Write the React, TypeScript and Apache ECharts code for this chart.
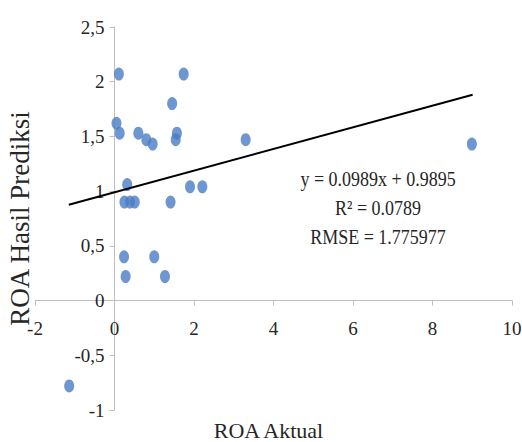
import React, { useEffect, useRef } from "react";
import * as echarts from "echarts";

const roaAktual = [0.11, 1.74, 1.45, 0.05, 0.13, 0.6, 0.8, 0.96, 1.57, 1.54, 3.3, 0.32, 1.9, 2.21, 0.25, 0.39, 0.51, 1.41, 8.99, 0.24, 1.0, 0.28, 1.27, -1.14];
const roaPrediksi = [2.07, 2.07, 1.8, 1.62, 1.53, 1.53, 1.47, 1.43, 1.53, 1.47, 1.47, 1.06, 1.04, 1.04, 0.9, 0.9, 0.9, 0.9, 1.43, 0.4, 0.4, 0.22, 0.22, -0.78];

const trendSlope = 0.0989;
const trendIntercept = 0.9895;
const trendXRange = [-1.15, 9.01];

const annotationLines = ["y = 0.0989x + 0.9895", "R\u00B2 = 0.0789", "RMSE = 1.775977"];

const FONT = "'Liberation Serif', 'Times New Roman', serif";

const W = 522;
const H = 442;
const GRID = { left: 35, right: 10, top: 27, bottom: 32 };
const X_MIN = -2;
const X_MAX = 10;
const Y_MIN = -1;
const Y_MAX = 2.5;

export default function App() {
  const ref = useRef<HTMLDivElement>(null);
  useEffect(() => {
    document.body.style.margin = "0";
    const chart = echarts.init(ref.current!, null, { renderer: "svg" });
    const points = roaAktual.map((x, i) => [x, roaPrediksi[i]]);
    const trend = trendXRange.map((x) => [x, trendSlope * x + trendIntercept]);
    const gw = W - GRID.left - GRID.right;
    const gh = H - GRID.top - GRID.bottom;
    const yAxisShift = ((0 - X_MIN) / (X_MAX - X_MIN)) * gw;
    const xAxisShift = ((0 - Y_MIN) / (Y_MAX - Y_MIN)) * gh;
    chart.setOption({
      animation: false,
      backgroundColor: "#ffffff",
      grid: { ...GRID, containLabel: false, outerBoundsMode: "none" },
      xAxis: {
        type: "value",
        min: X_MIN,
        max: X_MAX,
        interval: 2,
        offset: -xAxisShift,
        name: "ROA Aktual",
        nameLocation: "middle",
        nameGap: 119,
        nameTextStyle: { fontFamily: FONT, fontSize: 22, color: "#262626", padding: [0, 10, 0, 0] },
        splitLine: { show: false },
        axisLine: { onZero: false, lineStyle: { color: "#BFBFBF", width: 1 } },
        axisTick: { show: true, inside: false, length: 5, lineStyle: { color: "#BFBFBF" } },
        axisLabel: { margin: 18, fontFamily: FONT, fontSize: 19, color: "#262626" },
      },
      yAxis: {
        type: "value",
        min: Y_MIN,
        max: Y_MAX,
        interval: 0.5,
        offset: -yAxisShift,
        name: "ROA Hasil Prediksi",
        nameLocation: "middle",
        nameGap: 81,
        nameRotate: 90,
        nameTextStyle: { fontFamily: FONT, fontSize: 27, color: "#262626" },
        splitLine: { show: false },
        axisLine: { onZero: false, lineStyle: { color: "#BFBFBF", width: 1 } },
        axisTick: { show: true, inside: false, length: 5, lineStyle: { color: "#BFBFBF" } },
        axisLabel: {
          margin: 10,
          fontFamily: FONT,
          fontSize: 19,
          color: "#262626",
          formatter: (v: number) => String(v).replace(".", ","),
        },
      },
      graphic: annotationLines.map((t, i) => ({
        type: "text",
        x: 378,
        y: 178 + i * 29,
        scaleY: 1.2,
        style: {
          text: t,
          fontFamily: FONT,
          fontSize: 18,
          fill: "#262626",
          textAlign: "center",
          textVerticalAlign: "middle",
        },
      })),
      series: [
        {
          type: "scatter",
          data: points,
          symbol: "circle",
          symbolSize: [10, 13],
          itemStyle: { color: "#4A7CC4" },
          z: 3,
        },
        {
          type: "line",
          data: trend,
          showSymbol: false,
          symbol: "none",
          lineStyle: { color: "#000000", width: 2 },
          z: 4,
        },
      ],
    });
    return () => chart.dispose();
  }, []);
  return <div ref={ref} style={{ width: W, height: H }} />;
}
